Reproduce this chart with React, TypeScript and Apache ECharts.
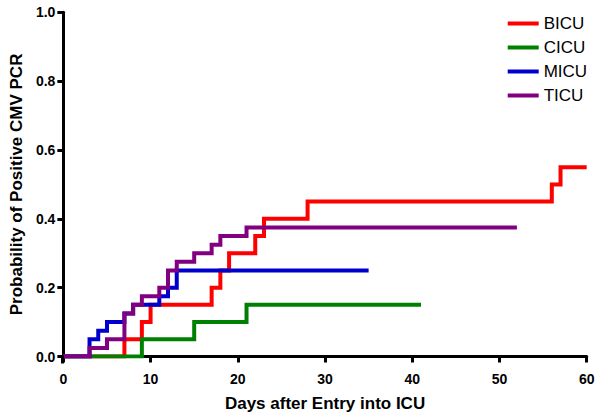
import React, { useEffect, useRef } from "react";
import * as echarts from "echarts";

const seriesNames = ["BICU", "CICU", "MICU", "TICU"];
const seriesColors = ["#ff0000", "#008000", "#0000cc", "#800080"];

const bicuDays = [0, 7, 9, 10, 17, 18, 19, 22, 23, 28, 56, 57, 60];
const bicuValues = [0, 0.05, 0.1, 0.15, 0.2, 0.25, 0.3, 0.35, 0.4, 0.45, 0.5, 0.55, 0.55];

const cicuDays = [0, 9, 15, 21, 41];
const cicuValues = [0, 0.05, 0.1, 0.15, 0.15];

const micuDays = [0, 3, 4, 5, 7, 8, 11, 12, 13, 35];
const micuValues = [0, 0.05, 0.075, 0.1, 0.125, 0.15, 0.175, 0.2, 0.25, 0.25];

const ticuDays = [0, 3, 5, 7, 8, 9, 11, 12, 13, 15, 17, 18, 21, 52];
const ticuValues = [0, 0.025, 0.05, 0.125, 0.15, 0.175, 0.2, 0.25, 0.275, 0.3, 0.325, 0.35, 0.375, 0.375];

const xTitle = "Days after Entry into ICU";
const yTitle = "Probability of Positive CMV PCR";

const FONT = "'Liberation Sans', Arial, sans-serif";

export default function App() {
  const ref = useRef<HTMLDivElement>(null);
  useEffect(() => {
    if (!ref.current) return;
    const chart = echarts.init(ref.current, undefined, { renderer: "svg" });
    const allDays = [bicuDays, cicuDays, micuDays, ticuDays];
    const allValues = [bicuValues, cicuValues, micuValues, ticuValues];
    const gridLeft = 62.5;
    const gridBottomY = 356.5;
    chart.setOption({
      animation: false,
      backgroundColor: "#ffffff",
      textStyle: { fontFamily: FONT },
      grid: { left: gridLeft, right: 15.3, top: 12.3, bottom: 418 - gridBottomY },
      legend: {
        orient: "vertical",
        left: 502.7,
        top: 10,
        icon: "rect",
        itemWidth: 31,
        itemHeight: 4,
        itemGap: 7,
        data: seriesNames,
        textStyle: { fontSize: 17, color: "#000", fontFamily: FONT, lineHeight: 17 },
      },
      xAxis: {
        type: "value",
        min: 0,
        max: 60,
        interval: 10,
        offset: 5.5,
        name: xTitle,
        nameLocation: "middle",
        nameGap: 33,
        nameTextStyle: { fontSize: 17, fontWeight: "bold", color: "#000", fontFamily: FONT },
        axisLine: { show: true, lineStyle: { color: "#000", width: 3 } },
        axisTick: { show: true, length: 6, lineStyle: { color: "#000", width: 3 } },
        axisLabel: { fontSize: 14, fontWeight: "bold", color: "#000", margin: 10, fontFamily: FONT },
        splitLine: { show: false },
      },
      yAxis: {
        type: "value",
        min: 0,
        max: 1,
        interval: 0.2,
        name: yTitle,
        nameLocation: "middle",
        nameGap: 33,
        nameTextStyle: { fontSize: 17, fontWeight: "bold", color: "#000", fontFamily: FONT },
        axisLine: { show: true, lineStyle: { color: "#000", width: 3 } },
        axisTick: { show: true, length: 6, lineStyle: { color: "#000", width: 3 } },
        axisLabel: {
          fontSize: 14,
          fontWeight: "bold",
          color: "#000",
          margin: 8,
          fontFamily: FONT,
          formatter: (v: number) => v.toFixed(1),
        },
        splitLine: { show: false },
      },
      graphic: [
        {
          type: "line",
          shape: { x1: gridLeft, y1: gridBottomY - 1, x2: gridLeft, y2: gridBottomY + 7 },
          style: { stroke: "#000", lineWidth: 3 },
          z: 10,
        },
      ],
      series: seriesNames.map((name, i) => ({
        name,
        type: "line",
        step: "end",
        symbol: "none",
        color: seriesColors[i],
        lineStyle: { width: 4, color: seriesColors[i], cap: "butt", join: "miter" },
        data: allDays[i].map((d, j) => [d, allValues[i][j]]),
      })),
    });
    return () => chart.dispose();
  }, []);
  return (
    <div
      ref={ref}
      style={{ position: "fixed", left: 0, top: 0, width: 602, height: 418, background: "#fff" }}
    />
  );
}
